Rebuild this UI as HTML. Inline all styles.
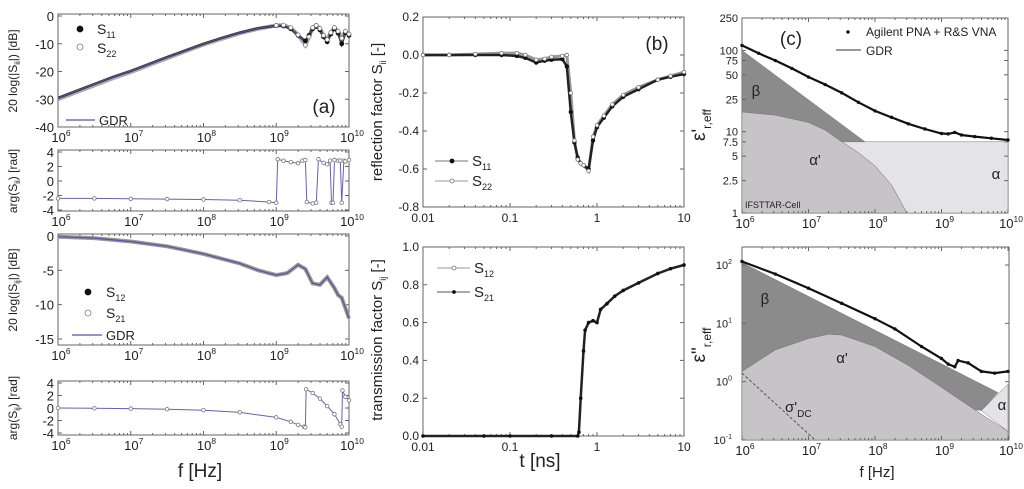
<!DOCTYPE html>
<html><head><meta charset="utf-8"><style>
html,body{margin:0;padding:0;background:#fff}
svg{display:block;font-family:"Liberation Sans",sans-serif}
</style></head><body>
<svg id="fig" width="1024" height="489" viewBox="0 0 1024 489" xmlns="http://www.w3.org/2000/svg"></svg>
<script>
// ---------- data ----------
// (a) top: |S11|,|S22| dB vs log10 f
const a1F = [6,6.25,6.5,6.75,7,7.25,7.5,7.75,8,8.25,8.5,8.75,9,9.1,9.2,9.3,9.4,9.45,9.5,9.55,9.6,9.65,9.7,9.75,9.8,9.85,9.9,9.95,10];
const a1S11 = [-29.5,-27,-24.5,-22,-19.8,-17.3,-14.8,-12.4,-10,-7.9,-6,-4.4,-3.5,-3.6,-4.6,-7,-9,-7,-4.6,-3.8,-5,-7.5,-9.3,-6.5,-4.6,-6.2,-10,-6,-7];
const a1S22 = [-30,-27.5,-25,-22.5,-20.2,-17.7,-15.2,-12.7,-10.3,-8.2,-6.2,-4.6,-3.4,-3.3,-4.2,-6.8,-10.5,-7.5,-4.2,-3.4,-4.5,-7,-8.5,-6,-4.2,-5.5,-8,-5.5,-6.5];
// (a) phase S11
const a2F = [6,6.5,7,7.5,8,8.5,8.9,9.0,9.02,9.1,9.2,9.3,9.36,9.4,9.42,9.5,9.55,9.58,9.65,9.7,9.74,9.76,9.78,9.8,9.85,9.88,9.9,9.93,9.95,10];
const a2S = [-2.4,-2.4,-2.45,-2.5,-2.55,-2.65,-2.9,-3.0,3.0,2.8,2.6,2.45,2.8,2.9,-2.9,-3.1,-3.0,3.0,2.5,2.3,2.8,-3.0,-3.0,2.9,2.8,2.8,-3.0,2.8,2.7,2.9];
// (a) |S21| dB
const a3F = [6,6.5,7,7.5,8,8.5,8.75,9,9.15,9.3,9.4,9.5,9.6,9.7,9.8,9.85,9.9,9.95,10];
const a3S = [-0.1,-0.3,-0.8,-1.5,-2.6,-4,-5,-5.7,-5.4,-4.2,-4.8,-6.9,-7.1,-6,-7.6,-8.6,-9,-10.5,-12];
// (a) phase S21
const a4F = [6,6.5,7,7.5,8,8.5,9,9.2,9.3,9.38,9.4,9.41,9.5,9.6,9.7,9.8,9.88,9.9,9.91,9.95,10];
const a4S = [0,-0.05,-0.1,-0.2,-0.35,-0.7,-1.5,-2.2,-2.7,-3.0,-3.1,3.0,2.4,1.5,0.3,-1,-2.6,-3.0,2.8,1.8,1.2];
// (b) reflection
const b1T = [0.01,0.02,0.04,0.08,0.12,0.15,0.2,0.25,0.3,0.4,0.45,0.5,0.55,0.6,0.65,0.7,0.8,0.9,1,1.2,1.5,2,3,5,7,10];
const b1S11 = [0,0,0,0,-0.005,-0.015,-0.04,-0.03,-0.025,-0.022,-0.06,-0.3,-0.46,-0.54,-0.57,-0.58,-0.6,-0.45,-0.38,-0.33,-0.27,-0.22,-0.18,-0.13,-0.115,-0.1];
const b1S22 = [0,0,0.005,0.01,0.01,0.0,-0.025,-0.02,-0.01,-0.005,0.0,-0.2,-0.45,-0.55,-0.57,-0.58,-0.61,-0.43,-0.37,-0.32,-0.26,-0.21,-0.17,-0.13,-0.11,-0.09];
// (b) transmission
const b2T = [0.01,0.05,0.1,0.3,0.6,0.62,0.65,0.7,0.73,0.8,0.9,1.0,1.1,1.3,1.6,2,3,5,7,10];
const b2S = [0,0,0,0,0,0.02,0.2,0.45,0.56,0.6,0.61,0.6,0.67,0.7,0.74,0.77,0.81,0.86,0.885,0.905];
// (c) eps' measured
const c1F = [6,6.25,6.5,6.75,7,7.25,7.5,7.75,8,8.25,8.5,8.75,9,9.1,9.2,9.3,9.5,9.75,10];
const c1E = [115,92,75,60,47,38,30,23,18,15,12.5,10.8,9.5,9.4,9.8,9.1,8.7,8.3,7.9];
const c1AlphaF = [6,6.5,7,7.25,7.5,7.75,8,8.25,8.48];
const c1AlphaE = [17.5,16,13,10.5,7.5,5.5,3.8,2.2,1];
const c1Beta = [[6,100],[7.85,7.5]];
// (c) eps'' measured
const c2F = [6,6.5,7,7.5,8,8.3,8.7,9,9.1,9.2,9.25,9.4,9.6,9.8,10];
const c2E = [115,70,40,22,12,8,4,2.5,2,1.8,2.3,2.1,1.5,1.4,1.5];
const c2AlphaF = [6,6.5,7,7.3,7.5,8,8.5,9,9.5,10];
const c2AlphaE = [1.5,3.5,5.5,6.5,6.3,4,1.9,0.8,0.33,0.14];
const c2Beta = [[6,110],[9.85,0.65]];
const c2Sigma = [[6,1.4],[7.1,0.1]];

// ---------- helpers ----------
const NS="http://www.w3.org/2000/svg";
const svg=document.getElementById('fig');
function mk(tag,attrs,parent){const e=document.createElementNS(NS,tag);for(const k in attrs)e.setAttribute(k,attrs[k]);(parent||svg).appendChild(e);return e;}
function lin(d0,d1,p0,p1){return v=>p0+(v-d0)*(p1-p0)/(d1-d0);}
function lg(d0,d1,p0,p1){const f=lin(Math.log10(d0),Math.log10(d1),p0,p1);return v=>f(Math.log10(v));}
function frame(x0,y0,x1,y1,name){
  const r=mk('rect',{x:x0,y:y0,width:x1-x0,height:y1-y0,fill:'none',stroke:'#666','stroke-width':1});
  
  
}
function tickX(x,y0,y1,len){mk('line',{x1:x,x2:x,y1:y1,y2:y1-len,stroke:'#666'});mk('line',{x1:x,x2:x,y1:y0,y2:y0+len,stroke:'#666'});}
function tickY(y,x0,x1,len){mk('line',{x1:x0,x2:x0+len,y1:y,y2:y,stroke:'#666'});mk('line',{x1:x1,x2:x1-len,y1:y,y2:y,stroke:'#666'});}
function txt(x,y,s,size,anchor,name){const t=mk('text',{x:x,y:y,'font-size':size,'text-anchor':anchor||'middle',fill:'#222'});t.textContent=s;return t;}
function pow10(x,y,e,size,name){const t=mk('text',{x:x,y:y,'font-size':size,'text-anchor':'middle',fill:'#222'});
  const a=mk('tspan',{},t);a.textContent='10';const b=mk('tspan',{dy:-6,'font-size':size*0.65},t);b.textContent=String(e);return t;}
function logXAxis(sx,y0,y1,name){
  for(let e=6;e<=10;e++){tickX(sx(e),y0,y1,4);pow10(sx(e)+3,y1+15,e,13,name+'-tick-label');
    if(e<10)for(let m=2;m<10;m++)tickX(sx(e+Math.log10(m)),y0,y1,2);}
}
function poly(pts,attrs,name){const p=mk('polyline',Object.assign({points:pts.map(q=>q[0].toFixed(1)+','+q[1].toFixed(1)).join(' '),fill:'none'},attrs));return p;}
function polygon(pts,fill,name){const p=mk('polygon',{points:pts.map(q=>q[0].toFixed(1)+','+q[1].toFixed(1)).join(' '),fill:fill,stroke:'#777','stroke-width':0.5});return p;}
function markers(pts,filled,r,name){pts.forEach(q=>{const c=mk('circle',{cx:q[0],cy:q[1],r:r,fill:filled?'#111':'#fff',stroke:filled?'#111':'#777','stroke-width':0.8});});}
function rotLabel(x,y,s,size,name){const t=mk('text',{x:0,y:0,'font-size':size,'text-anchor':'middle',fill:'#222',transform:`translate(${x},${y}) rotate(-90)`});return t;}
function zip(xs,ys,fx,fy){return xs.map((v,i)=>[fx(v),fy(ys[i])]);}

// ---------- panel (a) ----------
const ax=lin(6,10,58,349);
// a1
const a1y=lin(0,-40,16,127);
frame(58,14,349,127,'panel-a-magnitude-frame');
[0,-10,-20,-30,-40].forEach(v=>{tickY(a1y(v),58,349,4);txt(54,a1y(v)+5,String(v),13,'end','a1-y-tick-label');});
logXAxis(ax,14,127,'a1-x');
poly(zip(a1F,a1S22,ax,a1y),{stroke:'#aaa','stroke-width':4},'s22-mag-trace');
poly(zip(a1F,a1S11,ax,a1y),{stroke:'#333','stroke-width':2.5},'s11-mag-trace');
poly(zip(a1F,a1S11,ax,a1y),{stroke:'#5b4fa0','stroke-width':1},'gdr-mag-line');
markers(zip(a1F,a1S11,ax,a1y).slice(12),true,2,'s11-marker');
markers(zip(a1F,a1S22,ax,a1y).slice(12),false,2,'s22-marker');
markers([[80,29]],true,3,'legend-s11-marker');markers([[80,47]],false,3,'legend-s22-marker');
{const t=txt(97,34,'S',14,'start','legend-s11');const s=mk('tspan',{dy:4,'font-size':9},t);s.textContent='11';}
{const t=txt(97,53,'S',14,'start','legend-s22');const s=mk('tspan',{dy:4,'font-size':9},t);s.textContent='22';}
mk('line',{x1:66,x2:95,y1:120,y2:120,stroke:'#5b4fa0','stroke-width':1.2});
txt(99,125,'GDR',13,'start','legend-gdr');
txt(324,113,'(a)',19,'middle','panel-a-label');
{const t=rotLabel(17,71,'',12,'a1-y-title');t.textContent='20 log(|S';const s=mk('tspan',{dy:3,'font-size':8},t);s.textContent='ii';const r=mk('tspan',{dy:-3},t);r.textContent='|) [dB]';}
// a2
const a2y=lin(4,-4,152,210);
frame(58,150,349,211,'panel-a-phase-frame');
[4,2,0,-2,-4].forEach(v=>{tickY(a2y(v),58,349,4);txt(54,a2y(v)+5,String(v),13,'end','a2-y-tick-label');});
logXAxis(ax,150,211,'a2-x');
poly(zip(a2F,a2S,ax,a2y),{stroke:'#6a5fb0','stroke-width':1},'gdr-phase-line');
markers(zip(a2F,a2S,ax,a2y),false,1.8,'s22-phase-marker');
{const t=rotLabel(17,181,'',12,'a2-y-title');t.textContent='arg(S';const s=mk('tspan',{dy:3,'font-size':8},t);s.textContent='ii';const r=mk('tspan',{dy:-3},t);r.textContent=') [rad]';}
// a3
const a3y=lin(0,-15,236,339);
frame(58,234,349,345,'panel-a-trans-frame');
[0,-5,-10,-15].forEach(v=>{tickY(a3y(v),58,349,4);txt(54,a3y(v)+5,String(v),13,'end','a3-y-tick-label');});
logXAxis(ax,234,345,'a3-x');
poly(zip(a3F,a3S,ax,a3y),{stroke:'#999','stroke-width':4},'s21-mag-trace');
poly(zip(a3F,a3S,ax,a3y),{stroke:'#5b4fa0','stroke-width':1.2},'gdr-trans-line');
markers([[88,292]],true,3,'legend-s12-marker');markers([[88,313]],false,3,'legend-s21-marker');
{const t=txt(106,297,'S',14,'start','legend-s12');const s=mk('tspan',{dy:4,'font-size':9},t);s.textContent='12';}
{const t=txt(106,318,'S',14,'start','legend-s21');const s=mk('tspan',{dy:4,'font-size':9},t);s.textContent='21';}
mk('line',{x1:72,x2:102,y1:335,y2:335,stroke:'#5b4fa0','stroke-width':1.2});
txt(106,340,'GDR',13,'start','legend-gdr-2');
{const t=rotLabel(17,290,'',12,'a3-y-title');t.textContent='20 log(|S';const s=mk('tspan',{dy:3,'font-size':8},t);s.textContent='ij';const r=mk('tspan',{dy:-3},t);r.textContent='|) [dB]';}
// a4
const a4y=lin(4,-4,383,433);
frame(58,381,349,435,'panel-a-tphase-frame');
[4,2,0,-2,-4].forEach(v=>{tickY(a4y(v),58,349,4);txt(54,a4y(v)+5,String(v),13,'end','a4-y-tick-label');});
logXAxis(ax,381,435,'a4-x');
poly(zip(a4F,a4S,ax,a4y),{stroke:'#6a5fb0','stroke-width':1},'gdr-tphase-line');
markers(zip(a4F,a4S,ax,a4y),false,1.8,'s21-phase-marker');
{const t=rotLabel(17,408,'',12,'a4-y-title');t.textContent='arg(S';const s=mk('tspan',{dy:3,'font-size':8},t);s.textContent='ij';const r=mk('tspan',{dy:-3},t);r.textContent=') [rad]';}
txt(200,477,'f [Hz]',19,'middle','a-x-title');

// ---------- panel (b) ----------
const bx=lg(0.01,10,423,684);
function bXAxis(y0,y1,name){[0.01,0.1,1,10].forEach(v=>{tickX(bx(v),y0,y1,4);txt(bx(v),y1+15,String(v),12,'middle',name);});
  [0.01,0.1,1].forEach(d=>{for(let m=2;m<10;m++)tickX(bx(d*m),y0,y1,2);});}
const b1y=lin(0.2,-0.8,17,207);
frame(423,17,684,207,'panel-b-reflection-frame');
[0.2,0,-0.2,-0.4,-0.6,-0.8].forEach(v=>{tickY(b1y(v),423,684,4);txt(419,b1y(v)+4,v.toFixed(1),12,'end','b1-y-tick-label');});
bXAxis(17,207,'b1-x-tick-label');
poly(zip(b1T,b1S22,bx,b1y),{stroke:'#999','stroke-width':3},'s22-reflect-trace');
poly(zip(b1T,b1S11,bx,b1y),{stroke:'#222','stroke-width':2.5},'s11-reflect-trace');
markers(zip(b1T,b1S11,bx,b1y),true,1.8,'s11-reflect-marker');
markers(zip(b1T,b1S22,bx,b1y),false,1.8,'s22-reflect-marker');
mk('line',{x1:435,x2:468,y1:161,y2:161,stroke:'#777'});markers([[452,161]],true,2,'legend-b-s11-marker');
mk('line',{x1:435,x2:468,y1:181,y2:181,stroke:'#999'});markers([[452,181]],false,2,'legend-b-s22-marker');
{const t=txt(472,166,'S',15,'start','legend-b-s11');const s=mk('tspan',{dy:4,'font-size':9},t);s.textContent='11';}
{const t=txt(472,186,'S',15,'start','legend-b-s22');const s=mk('tspan',{dy:4,'font-size':9},t);s.textContent='22';}
txt(657,50,'(b)',19,'middle','panel-b-label');
{const t=rotLabel(382,112,'',15,'b1-y-title');t.textContent='reflection factor S';const s=mk('tspan',{dy:4,'font-size':9},t);s.textContent='ii';const r=mk('tspan',{dy:-4},t);r.textContent=' [-]';}
const b2y=lin(1.0,0.0,247,436);
frame(423,247,684,436,'panel-b-transmission-frame');
[1,0.8,0.6,0.4,0.2,0].forEach(v=>{tickY(b2y(v),423,684,4);txt(419,b2y(v)+4,v.toFixed(1),12,'end','b2-y-tick-label');});
bXAxis(247,436,'b2-x-tick-label');
poly(zip(b2T,b2S,bx,b2y),{stroke:'#222','stroke-width':2.5},'s21-trans-trace');
markers(zip(b2T,b2S,bx,b2y),true,1.4,'s21-trans-marker');
mk('line',{x1:437,x2:470,y1:268,y2:268,stroke:'#999'});markers([[454,268]],false,2,'legend-b-s12-marker');
mk('line',{x1:437,x2:470,y1:292,y2:292,stroke:'#555'});markers([[454,292]],true,1.5,'legend-b-s21-marker');
{const t=txt(474,273,'S',15,'start','legend-b-s12');const s=mk('tspan',{dy:4,'font-size':9},t);s.textContent='12';}
{const t=txt(474,297,'S',15,'start','legend-b-s21');const s=mk('tspan',{dy:4,'font-size':9},t);s.textContent='21';}
{const t=rotLabel(382,340,'',15,'b2-y-title');t.textContent='transmission factor S';const s=mk('tspan',{dy:4,'font-size':9},t);s.textContent='ij';const r=mk('tspan',{dy:-4},t);r.textContent=' [-]';}
txt(540,467,'t [ns]',19,'middle','b-x-title');

// ---------- panel (c) ----------
const cx=lin(6,10,742,1008);
const c1y=lg(1,250,213,18);
frame(742,18,1008,213,'panel-c-real-frame');
// alpha region (light)
polygon([[cx(7.5),c1y(7.5)],[cx(10),c1y(7.5)],[cx(10),c1y(1)],[cx(8.48),c1y(1)]].concat(zip(c1AlphaF.slice(4).reverse(),c1AlphaE.slice(4).reverse(),cx,c1y).slice(1)),'#e4e3e6','alpha-region');
// alpha' region
polygon(zip(c1AlphaF,c1AlphaE,cx,c1y).concat([[cx(8.48),c1y(1)],[cx(6),c1y(1)]]),'#c6c4c6','alpha-prime-region');
// beta region
polygon([[cx(c1Beta[0][0]),c1y(c1Beta[0][1])],[cx(c1Beta[1][0]),c1y(c1Beta[1][1])]].concat(zip(c1AlphaF.slice(0,5).reverse(),c1AlphaE.slice(0,5).reverse(),cx,c1y)),'#8c8b8c','beta-region');
[1,2.5,5,7.5,10,25,50,75,100,250].forEach(v=>{tickY(c1y(v),742,1008,4);txt(738,c1y(v)+4,String(v),11,'end','c1-y-tick-label');});
logXAxis(cx,18,213,'c1-x');
poly(zip(c1F,c1E,cx,c1y),{stroke:'#111','stroke-width':2.2},'eps-real-measured');
markers(zip(c1F,c1E,cx,c1y),true,1.3,'eps-real-marker');
markers([[848,32]],true,1.3,'legend-agilent-marker');
txt(866,36,'Agilent PNA + R&S VNA',12,'start','legend-agilent');
mk('line',{x1:836,x2:861,y1:50,y2:50,stroke:'#333'});
txt(866,55,'GDR',12,'start','legend-c-gdr');
txt(791,45,'(c)',19,'middle','panel-c-label');
txt(756,96,'β',15,'middle','beta-label-1');
txt(815,165,"α'",15,'middle','alpha-prime-label-1');
txt(996,179,'α',15,'middle','alpha-label-1');
txt(745,208,'IFSTTAR-Cell',9,'start','cell-label');
{const t=rotLabel(705,125,'',19,'c1-y-title');t.textContent="ε'";const s=mk('tspan',{dy:6,'font-size':12},t);s.textContent='r,eff';}

const c2y=lg(0.1,100,440,265);
frame(742,247,1009,440,'panel-c-imag-frame');
const c2yTop=c2y(200);
// alpha' region
polygon(zip(c2AlphaF,c2AlphaE,cx,c2y).concat([[cx(10),440],[cx(6),440]]),'#c6c4c6','alpha-prime-region-2');
// beta region
polygon([[cx(c2Beta[0][0]),c2y(c2Beta[0][1])],[cx(c2Beta[1][0]),c2y(c2Beta[1][1])],[cx(9.6),c2y(0.32)]].concat(zip(c2AlphaF.slice(0,9).reverse(),c2AlphaE.slice(0,9).reverse(),cx,c2y)),'#8c8b8c','beta-region-2');
// alpha region
polygon([[cx(9.6),c2y(0.32)],[cx(10),c2y(0.9)],[cx(10),c2y(0.14)]],'#e4e3e6','alpha-region-2');
poly(c2Sigma.map(q=>[cx(q[0]),c2y(q[1])]),{stroke:'#555','stroke-width':1,'stroke-dasharray':'3,2'},'sigma-dc-line');
[-1,0,1,2].forEach(e=>{tickY(c2y(Math.pow(10,e)),742,1009,4);const t=txt(732,c2y(Math.pow(10,e))+4,'10',11,'end','c2-y-tick-label');const s=mk('tspan',{dy:-5,'font-size':7},t);s.textContent=String(e);});
logXAxis(cx,247,440,'c2-x');
poly(zip(c2F,c2E,cx,c2y),{stroke:'#111','stroke-width':2.2},'eps-imag-measured');
markers(zip(c2F,c2E,cx,c2y),true,1.3,'eps-imag-marker');
txt(765,304,'β',15,'middle','beta-label-2');
txt(842,363,"α'",15,'middle','alpha-prime-label-2');
txt(1002,410,'α',15,'middle','alpha-label-2');
{const t=txt(785,412,"σ'",15,'start','sigma-dc-label');const s=mk('tspan',{dy:5,'font-size':10},t);s.textContent='DC';}
{const t=rotLabel(705,345,'',19,'c2-y-title');t.textContent='ε"';const s=mk('tspan',{dy:6,'font-size':12},t);s.textContent='r,eff';}
txt(877,477,'f [Hz]',15,'middle','c-x-title');
</script>
</body></html>
